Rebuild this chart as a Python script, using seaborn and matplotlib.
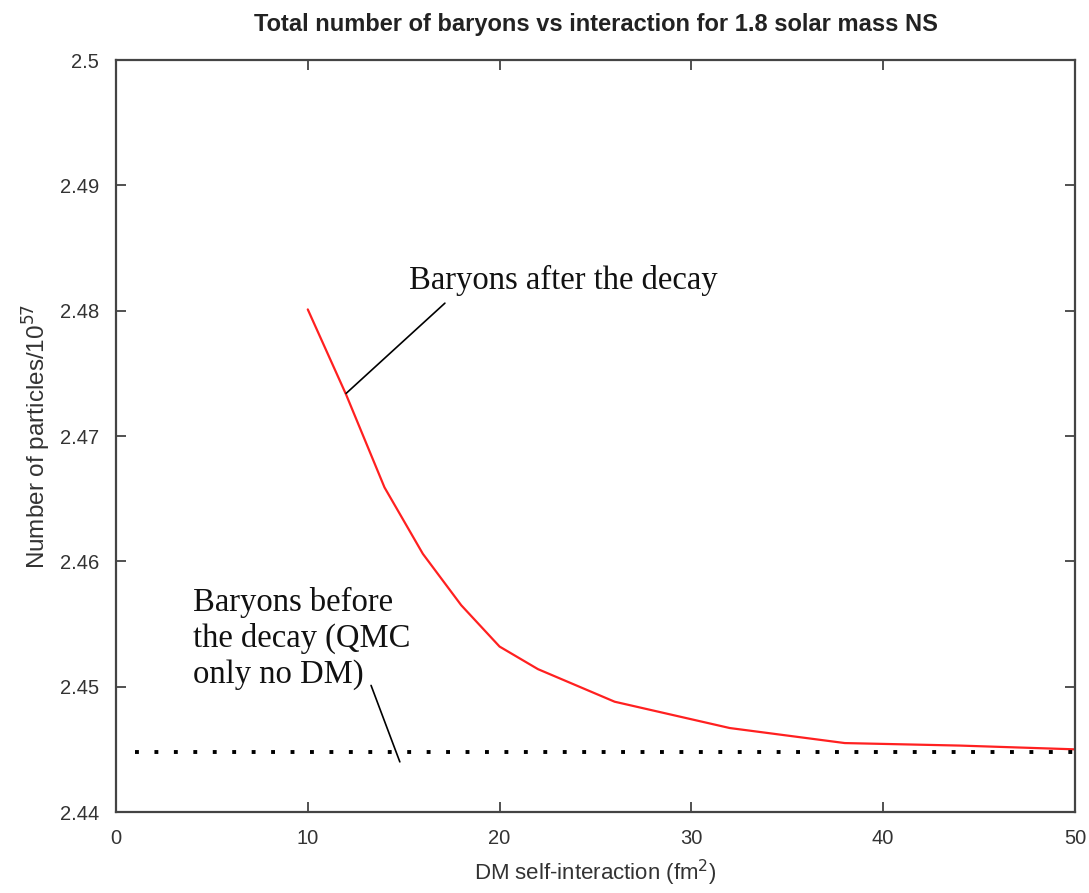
import numpy as np
import pandas as pd
from matplotlib import pyplot as plt
from matplotlib.ticker import FuncFormatter
import seaborn as sns

# Data
interaction = [10, 12, 14, 16, 18, 20, 22, 26, 32, 38, 44, 50]
baryons_after = [2.4801, 2.4733, 2.4659, 2.4606, 2.4565, 2.4532, 2.4514, 2.4488, 2.4467, 2.4455, 2.4453, 2.4450]
before_x = [1, 50]
before_y = [2.4448, 2.4448]

after = pd.DataFrame({'x': interaction, 'y': baryons_after})
before = pd.DataFrame({'x': before_x, 'y': before_y})

sns.set_style('ticks')
plt.rcParams['font.family'] = ['Liberation Sans', 'DejaVu Sans']

fig = plt.figure(figsize=(10.89, 8.93), dpi=100)
ax = fig.add_axes([0.1065, 0.0907, 0.8806, 0.8421])

sns.lineplot(data=after, x='x', y='y', color='#ff2020', linewidth=1.6, ax=ax)
sns.lineplot(data=before, x='x', y='y', color='black', linewidth=2.8, ax=ax)
ax.lines[-1].set_dashes((1, 4))

ax.set_xlim(0, 50)
ax.set_ylim(2.44, 2.5)
ax.set_xticks([0, 10, 20, 30, 40, 50])
ax.set_yticks([2.44, 2.45, 2.46, 2.47, 2.48, 2.49, 2.5])
ax.yaxis.set_major_formatter(FuncFormatter(lambda v, p: '{:g}'.format(round(v, 3))))
ax.tick_params(direction='in', length=7, width=1.2, colors='#333333',
               labelsize=14.5, top=True, right=True, pad=12)
for s in ax.spines.values():
    s.set_color('#444444')
    s.set_linewidth(1.6)

ax.set_xlabel('DM self-interaction (fm$^2$)', fontsize=16, color='#333333', labelpad=7)
ax.set_ylabel('Number of particles/10$^{57}$', fontsize=17.5, color='#333333', labelpad=5)
ax.set_title('Total number of baryons vs interaction for 1.8 solar mass NS',
             fontsize=17, fontweight='bold', color='#222222', pad=21)

serif = ['Liberation Serif', 'DejaVu Serif']
ax.text(15.3, 2.4817, 'Baryons after the decay', fontsize=23.5, family=serif,
        color='#111111', va='baseline', ha='left')
ax.text(4.0, 2.4503, 'Baryons before\nthe decay (QMC\nonly no DM)', fontsize=23.5,
        family=serif, color='#111111', va='baseline', ha='left', linespacing=1.22)
ax.annotate('', xy=(12.0, 2.4734), xytext=(17.15, 2.4806),
            arrowprops=dict(arrowstyle='-', color='black', lw=1.2, shrinkA=0, shrinkB=0))
ax.annotate('', xy=(14.8, 2.4440), xytext=(13.3, 2.4501),
            arrowprops=dict(arrowstyle='-', color='black', lw=1.2, shrinkA=0, shrinkB=0))

plt.savefig('out.png', dpi=100)
